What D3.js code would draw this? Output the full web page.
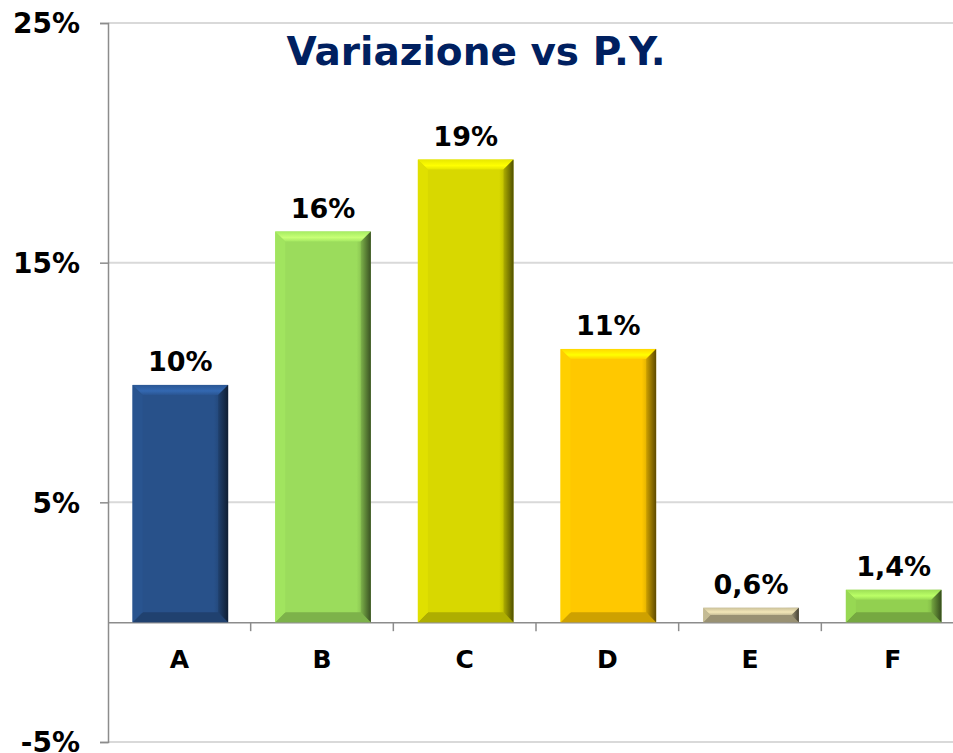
<!DOCTYPE html>
<html>
<head>
<meta charset="utf-8">
<script src="https://cdn.jsdelivr.net/npm/d3@7.9.0/dist/d3.min.js"></script>
<style>
  body { margin: 0; background: #fff; }
  svg { display: block; font-family: "DejaVu Sans", Verdana, sans-serif; font-weight: bold; }
</style>
</head>
<body>
<svg id="chart" width="953" height="753"></svg>
<script>
// data
const categories = ['A', 'B', 'C', 'D', 'E', 'F'];
const values = [9.9, 16.3, 19.3, 11.4, 0.6, 1.35];
const valueLabels = ['10%', '16%', '19%', '11%', '0,6%', '1,4%'];
const barColors = ['#28518a', '#9bdc5c', '#d8d800', '#ffc800', '#bdb48f', '#92d050'];
const yTicks = [-5, 5, 15, 25];

const svg = d3.select('#chart');
const width = 953, height = 753;

let x = d3.scaleBand().domain(categories).range([108, 964]).padding(0);
let y = d3.scaleLinear().domain([-5, 25]).range([742, 23]);

// gridlines
svg.append('g')
  .selectAll('line')
  .data(yTicks)
  .join('line')
  .attr('x1', 108).attr('x2', width)
  .attr('y1', d => y(d)).attr('y2', d => y(d))
  .attr('stroke', '#d9d9d9').attr('stroke-width', 2);

// y axis
let yAxis = svg.append('g')
  .attr('transform', 'translate(108,0)')
  .call(d3.axisLeft(y).tickValues(yTicks).tickSize(8).tickFormat(d => d + '%'));
yAxis.select('.domain').attr('stroke', '#8c8c8c').attr('stroke-width', 1.5);
yAxis.selectAll('.tick line').attr('stroke', '#8c8c8c').attr('stroke-width', 1.5);
yAxis.selectAll('.tick text')
  .attr('x', -28).attr('dy', '0.35em')
  .attr('fill', '#000')
  .style('font-size', '28px').style('font-family', '"DejaVu Sans", sans-serif').style('font-weight', 'bold');

// x axis at zero
let xAxis = svg.append('g')
  .attr('transform', `translate(0,${y(0)})`)
  .call(d3.axisBottom(x).tickSize(0).tickFormat(''));
xAxis.select('.domain').attr('stroke', '#8c8c8c').attr('stroke-width', 1.5);
xAxis.selectAll('.tick').remove();

// tick marks between categories
let boundaries = categories.slice(1).map(c => x(c));
svg.append('g')
  .selectAll('line')
  .data(boundaries)
  .join('line')
  .attr('x1', d => d).attr('x2', d => d)
  .attr('y1', y(0)).attr('y2', y(0) + 9)
  .attr('stroke', '#8c8c8c').attr('stroke-width', 1.5);

// category labels
svg.append('g')
  .selectAll('text')
  .data(categories)
  .join('text')
  .attr('x', d => x(d) + x.bandwidth() / 2)
  .attr('y', y(0) + 46)
  .attr('text-anchor', 'middle')
  .style('font-size', '25px')
  .text(d => d);

// bars with bevel
const defs = svg.append('defs');
let barW = x.bandwidth() * 0.67;
let bars = svg.append('g');

categories.forEach((c, i) => {
  let base = d3.color(barColors[i]);
  let x0 = x(c) + (x.bandwidth() - barW) / 2 + 1;
  let x1 = x0 + barW;
  let yTop = y(values[i]);
  let yBot = y(0);
  let h = yBot - yTop;
  let b = Math.min(10, h / 2);

  let gid = 'grad' + i;
  let grad = defs.append('linearGradient').attr('id', gid).attr('x1', 0).attr('x2', 1).attr('y1', 0).attr('y2', 0);
  grad.append('stop').attr('offset', '0%').attr('stop-color', base.brighter(0.2));
  grad.append('stop').attr('offset', '8%').attr('stop-color', base);
  grad.append('stop').attr('offset', '85%').attr('stop-color', base);
  grad.append('stop').attr('offset', '100%').attr('stop-color', base.darker(1.0));

  bars.append('rect')
    .attr('x', x0).attr('y', yTop)
    .attr('width', barW).attr('height', h)
    .attr('fill', `url(#${gid})`);

  // top bevel
  let tg = 'tgrad' + i;
  let tgrad = defs.append('linearGradient').attr('id', tg).attr('x1', 0).attr('x2', 0).attr('y1', 0).attr('y2', 1);
  tgrad.append('stop').attr('offset', '0%').attr('stop-color', base.brighter(0.2));
  tgrad.append('stop').attr('offset', '60%').attr('stop-color', base.brighter(0.7));
  tgrad.append('stop').attr('offset', '100%').attr('stop-color', base.brighter(0.15));
  bars.append('polygon')
    .attr('points', [[x0, yTop], [x1, yTop], [x1 - b, yTop + b], [x0 + b, yTop + b]].join(' '))
    .attr('fill', `url(#${tg})`);

  // bottom bevel
  bars.append('polygon')
    .attr('points', [[x0, yBot], [x1, yBot], [x1 - b, yBot - b], [x0 + b, yBot - b]].join(' '))
    .attr('fill', base.darker(0.6));

  // right bevel
  let rg = 'rgrad' + i;
  let rgrad = defs.append('linearGradient').attr('id', rg).attr('x1', 0).attr('x2', 1).attr('y1', 0).attr('y2', 0);
  rgrad.append('stop').attr('offset', '0%').attr('stop-color', base.darker(0.6));
  rgrad.append('stop').attr('offset', '100%').attr('stop-color', base.darker(2.8));
  bars.append('polygon')
    .attr('points', [[x1, yTop], [x1, yBot], [x1 - b, yBot - b], [x1 - b, yTop + b]].join(' '))
    .attr('fill', `url(#${rg})`);

  // left bevel
  bars.append('polygon')
    .attr('points', [[x0, yTop], [x0, yBot], [x0 + b, yBot - b], [x0 + b, yTop + b]].join(' '))
    .attr('fill', base.brighter(0.1));
});

// value labels
svg.append('g')
  .selectAll('text')
  .data(categories)
  .join('text')
  .attr('x', d => x(d) + x.bandwidth() / 2 + 1)
  .attr('y', (d, i) => y(values[i]) - 14)
  .attr('text-anchor', 'middle')
  .style('font-size', '27px')
  .text((d, i) => valueLabels[i]);

// title
svg.append('text')
  .attr('x', 476).attr('y', 65)
  .attr('text-anchor', 'middle')
  .attr('fill', '#002060')
  .style('font-size', '39px')
  .text('Variazione vs P.Y.');
</script>
</body>
</html>
